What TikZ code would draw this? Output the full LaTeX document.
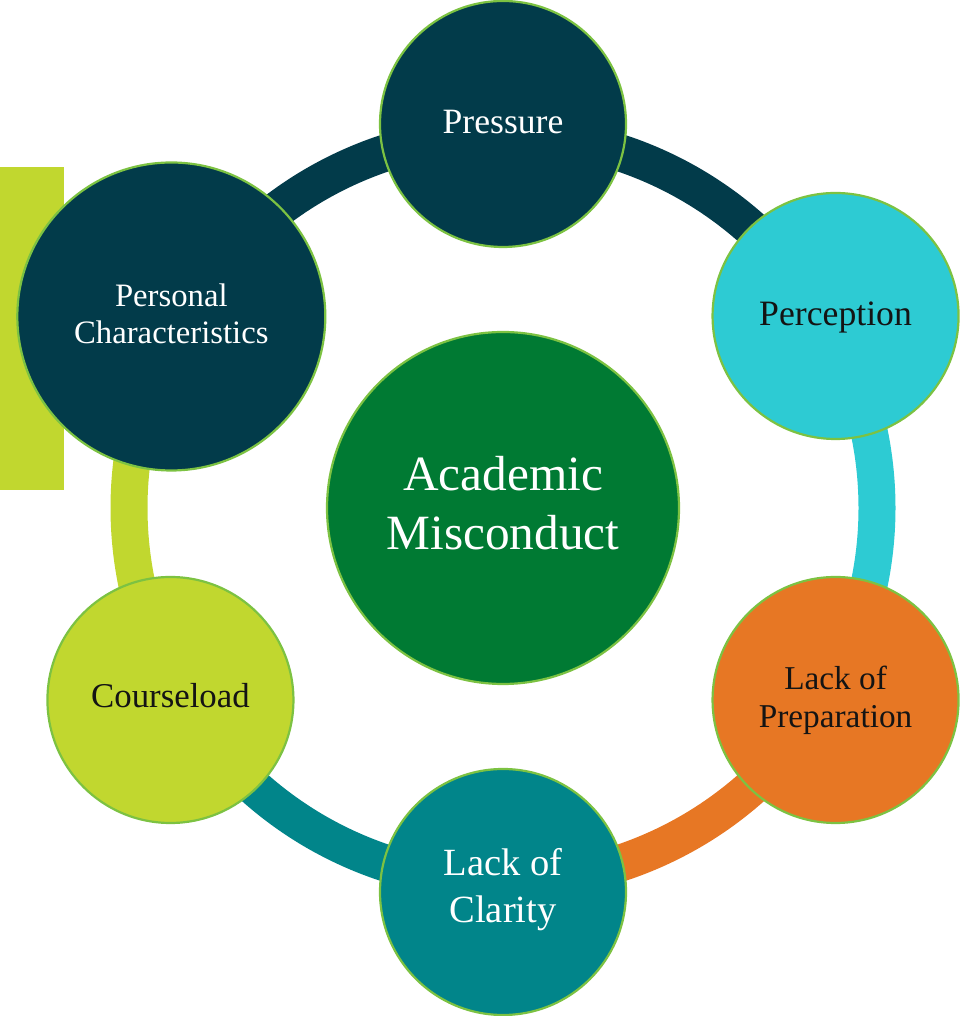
\documentclass[tikz,border=0pt]{standalone}
\usepackage{fontspec}
\setmainfont{Liberation Serif}
\definecolor{navy}{HTML}{023B4A}
\definecolor{cyanc}{HTML}{2DCBD3}
\definecolor{orangec}{HTML}{E77724}
\definecolor{tealc}{HTML}{01858A}
\definecolor{limec}{HTML}{C1D72F}
\definecolor{greenc}{HTML}{007A33}
\definecolor{bord}{HTML}{7CC242}
\definecolor{ink}{HTML}{141414}
\begin{document}
\begin{tikzpicture}[x=1pt,y=1pt,
  bub/.style={circle, draw=bord, line width=2.2pt, inner sep=0pt, align=center},
  sat/.style={bub, minimum size=246pt},
  ringseg/.style={line width=37pt}]
\useasboundingbox (0,0) rectangle (959,1016);
\coordinate (c) at (503,508);
% side bar
\fill[limec] (0,526) rectangle (64,849);
% ring segments
\draw[ringseg, navy]    (c) ++(90:374)  arc[start angle=90,  end angle=30,   radius=374];
\draw[ringseg, cyanc]   (c) ++(30:374)  arc[start angle=30,  end angle=-30,  radius=374];
\draw[ringseg, orangec] (c) ++(-30:374) arc[start angle=-30, end angle=-90,  radius=374];
\draw[ringseg, tealc]   (c) ++(-90:374) arc[start angle=-90, end angle=-150, radius=374];
\draw[ringseg, limec]   (c) ++(210:374) arc[start angle=210, end angle=150,  radius=374];
\draw[ringseg, navy]    (c) ++(150:374) arc[start angle=150, end angle=90,   radius=374];
% centre
\node[bub, fill=greenc, text=white, minimum size=352pt,
      font=\fontsize{49.3pt}{58.3pt}\selectfont, text height=90.9pt, text depth=8.3pt]
      (acad) at (c) {Academic\\Misconduct};
% satellites
\node[sat, fill=navy, text=white, font=\fontsize{35.6pt}{42pt}\selectfont,
      text height=23.6pt, text depth=5pt]
      (pres) at ([shift={(90:384)}]c) {Pressure};
\node[sat, fill=cyanc, text=ink, font=\fontsize{35.7pt}{42pt}\selectfont,
      text height=23.6pt, text depth=3.6pt]
      (perc) at ([shift={(30:384)}]c) {Perception};
\node[sat, fill=orangec, text=ink, font=\fontsize{33.3pt}{38pt}\selectfont,
      text height=60pt, text depth=5.4pt]
      (prep) at ([shift={(-30:384)}]c) {Lack of\\Preparation};
\node[sat, fill=tealc, text=white, font=\fontsize{38.5pt}{47.3pt}\selectfont,
      text height=72.8pt, text depth=10.8pt]
      (clar) at ([shift={(-90:384)}]c) {Lack of\\Clarity};
\node[sat, fill=limec, text=ink, font=\fontsize{34.8pt}{42pt}\selectfont,
      text height=23pt, text depth=7.6pt]
      (cour) at ([shift={(210:384)}]c) {Courseload};
\node[bub, minimum size=308pt, fill=navy, text=white, font=\fontsize{32.7pt}{37.3pt}\selectfont,
      text height=58.9pt, text depth=4.9pt]
      (pers) at ([shift={(150:383)}]c) {Personal\\Characteristics};
\end{tikzpicture}
\end{document}
